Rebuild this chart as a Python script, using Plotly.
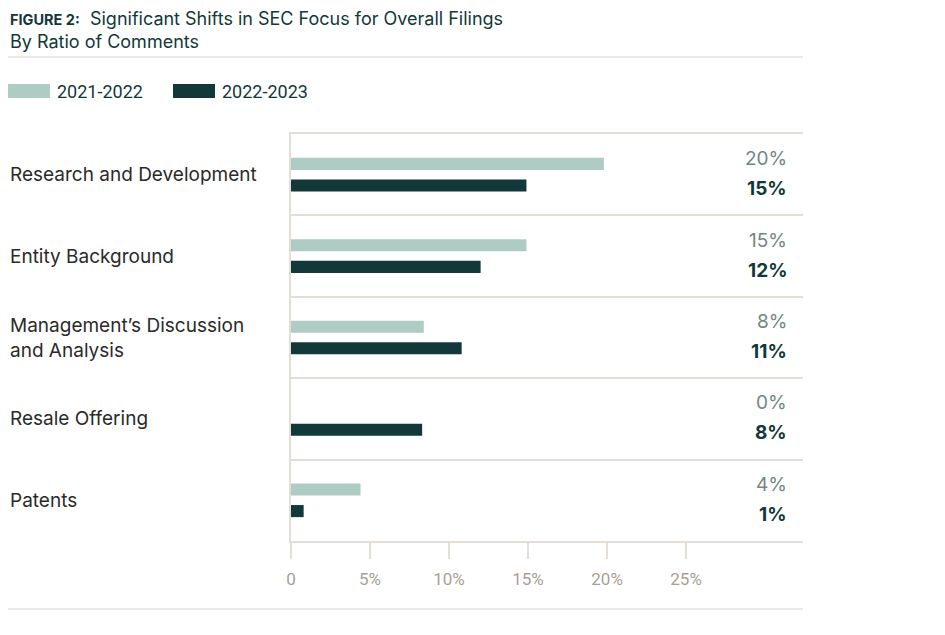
import plotly.graph_objects as go

# Data
categories = [
    "Research and Development",
    "Entity Background",
    "Management’s Discussion<br>and Analysis",
    "Resale Offering",
    "Patents",
]
series_names = ["2021-2022", "2022-2023"]
values_2122 = [19.8, 14.9, 8.4, 0.0, 4.4]
values_2223 = [14.9, 12.0, 10.8, 8.3, 0.8]
labels_2122 = ["20%", "15%", "8%", "0%", "4%"]
labels_2223 = ["15%", "12%", "11%", "8%", "1%"]
tick_vals = [0, 5, 10, 15, 20, 25]
tick_text = ["0", "5%", "10%", "15%", "20%", "25%"]

LIGHT = "#aecbc4"
DARK = "#12383a"
RULE = "#e3ded6"
TEXT = "#2a2a2a"
TICK = "#a89f94"
BODY_FONT = "Inter, Roboto, Noto Sans, sans-serif"
NARROW_FONT = "Roboto, Inter, sans-serif"

# page is drawn with an 8px body margin, so the figure is laid out 8px smaller
W, H = 937, 627
L, R, T, B = 283, 142, 126, 94
PW, PH = W - L - R, H - T - B


def px(x):
    """page x pixel -> paper x"""
    return (x - 8 - L) / PW


def py(y):
    """page y pixel -> paper y"""
    return (H - B - (y - 8)) / PH


ypos = list(range(len(categories)))

fig = go.Figure()
fig.add_trace(go.Bar(
    y=ypos, x=values_2122, orientation="h", name=series_names[0],
    marker=dict(color=LIGHT, line=dict(width=0)), hoverinfo="x",
))
fig.add_trace(go.Bar(
    y=ypos, x=values_2223, orientation="h", name=series_names[1],
    marker=dict(color=DARK, line=dict(width=0)), hoverinfo="x",
))

# category labels, left aligned at the page edge
for i, cat in enumerate(categories):
    fig.add_annotation(
        x=px(8), xref="paper", y=i, yref="y", text=cat,
        xanchor="left", yanchor="middle", align="left", showarrow=False,
        font=dict(family=BODY_FONT, size=19, color=TEXT),
    )

# value labels at the right
for i in ypos:
    fig.add_annotation(
        x=px(789), xref="paper", y=i, yref="y", yshift=16, text=labels_2122[i],
        xanchor="right", yanchor="middle", showarrow=False,
        font=dict(family=BODY_FONT, size=19, color="#6f8783"),
    )
    fig.add_annotation(
        x=px(789), xref="paper", y=i, yref="y", yshift=-14,
        text="<b>" + labels_2223[i] + "</b>",
        xanchor="right", yanchor="middle", showarrow=False,
        font=dict(family=BODY_FONT, size=19, color=DARK),
    )

# title block
fig.add_annotation(
    x=px(8), xref="paper", y=py(18), yref="paper",
    text="<b><span style='font-size:14.5px'>FIGURE 2:</span></b>  Significant Shifts in SEC Focus for Overall Filings",
    xanchor="left", yanchor="middle", showarrow=False,
    font=dict(family=BODY_FONT, size=18, color=DARK),
)
fig.add_annotation(
    x=px(8), xref="paper", y=py(42), yref="paper",
    text="By Ratio of Comments",
    xanchor="left", yanchor="middle", showarrow=False,
    font=dict(family=BODY_FONT, size=18, color=DARK),
)

# custom legend
legend_x = [8, 173]
for k, name in enumerate(series_names):
    fig.add_shape(type="rect", xref="paper", yref="paper",
                  x0=px(legend_x[k]), x1=px(legend_x[k] + 42),
                  y0=py(98), y1=py(84),
                  fillcolor=[LIGHT, DARK][k], line=dict(width=0))
    fig.add_annotation(
        x=px(legend_x[k] + 47), xref="paper",
        y=py(91), yref="paper", text=name,
        xanchor="left", yanchor="middle", showarrow=False,
        font=dict(family=NARROW_FONT, size=18, color=DARK),
    )

# rules above legend and under the axis
for ypx in [57, 609]:
    fig.add_shape(type="line", xref="paper", yref="paper",
                  x0=px(8), x1=1, y0=py(ypx), y1=py(ypx),
                  line=dict(color="#d9d2c8", width=1.2))

fig.update_layout(
    width=W, height=H,
    margin=dict(l=L, r=R, t=T, b=B),
    paper_bgcolor="white", plot_bgcolor="white",
    barmode="group", bargap=0.47, bargroupgap=0.44,
    showlegend=False,
    xaxis=dict(
        range=[0, 32.4], tickvals=tick_vals, ticktext=tick_text,
        showgrid=False, zeroline=False,
        showline=True, mirror=True, linecolor=RULE, linewidth=1.5,
        ticks="outside", ticklen=16, tickcolor=RULE, tickwidth=1.5,
        ticklabelstandoff=6,
        tickfont=dict(family=NARROW_FONT, size=17, color=TICK),
    ),
    yaxis=dict(
        range=[4.5, -0.5], showticklabels=False,
        tick0=0.5, dtick=1, showgrid=True, gridcolor=RULE, gridwidth=1.5,
        zeroline=False, showline=True, linecolor=RULE, linewidth=1.5,
    ),
)

fig.write_html("out.html")
